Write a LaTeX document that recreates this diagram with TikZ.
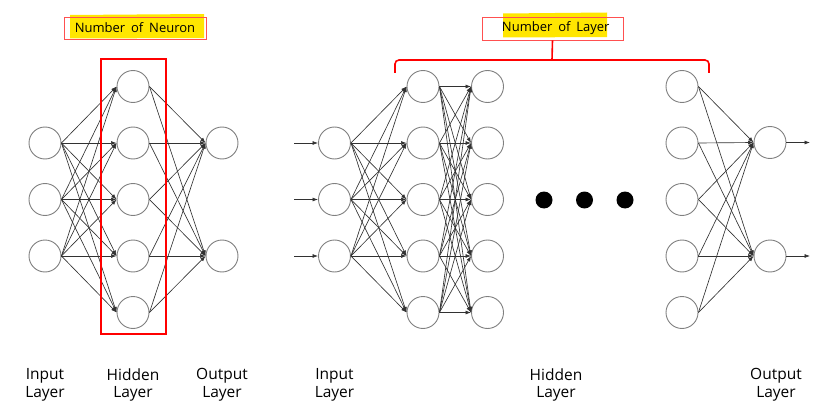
\documentclass[tikz,border=0pt]{standalone}
\usepackage{fontspec}
\setmainfont{Open Sans}
\usetikzlibrary{arrows.meta}
\definecolor{ringgray}{RGB}{128,128,128}
\definecolor{linkgray}{RGB}{50,50,50}
\definecolor{markyellow}{RGB}{255,230,0}
\definecolor{boxred}{RGB}{255,80,80}
\begin{document}
\begin{tikzpicture}[x=1pt,y=-1pt,
  neuron/.style={circle,draw=ringgray,fill=white,line width=0.9pt,minimum size=32pt,inner sep=0pt},
  link/.style={draw=linkgray,line width=0.65pt,-{Latex[length=5.5pt,width=4pt]}},
  dotnode/.style={circle,fill=black,minimum size=17pt,inner sep=0pt},
  layerlabel/.style={align=center,anchor=north,inner sep=0pt,font=\fontsize{15.5}{17.5}\selectfont},
  titlebox/.style={draw=boxred,line width=0.8pt,inner sep=0pt,font=\fontsize{13}{15}\selectfont},
  brace/.style={draw=red,line width=1.6pt,rounded corners=4pt}]
\useasboundingbox (0,0) rectangle (831,420);

% ---------- small network: input, one hidden layer, output ----------
\foreach \i/\y in {1/143,2/199.5,3/256}
  \node[neuron] (LI\i) at (45,\y) {};
\foreach \i/\y in {1/86.5,2/143,3/199.5,4/256,5/312.5}
  \node[neuron] (LH\i) at (133,\y) {};
\foreach \i/\y in {1/143,2/256}
  \node[neuron] (LO\i) at (222,\y) {};

\foreach \a in {1,2,3}
  \foreach \b in {1,...,5}
    \draw[link] (LI\a.east) -- (LH\b.west);
\foreach \a in {1,...,5}
  \foreach \b in {1,2}
    \draw[link] (LH\a.east) -- (LO\b.west);

% red frame around the hidden layer
\node[draw=red,line width=2.5pt,minimum width=65pt,minimum height=275pt,inner sep=0pt]
  (neuronframe) at (133.5,196.5) {};

% title: number of neurons
\fill[markyellow] (70,15) -- (204,14) -- (204,38) -- (70,38.5) -- cycle;
\node[titlebox,minimum width=142pt,minimum height=22pt] (neurontitle) at (135,28) {Number\hspace{0.45em}of\hspace{0.45em}Neuron};

% ---------- deep network ----------
\foreach \i/\y in {1/143,2/199.5,3/256}{
  \node[neuron] (RI\i) at (334.5,\y) {};
  \coordinate (RS\i) at (294,\y);
}
\foreach \i/\y in {1/86.5,2/143,3/199.5,4/256,5/312.5}{
  \node[neuron] (RA\i) at (423,\y) {};
  \node[neuron] (RB\i) at (487.5,\y) {};
  \node[neuron] (RZ\i) at (682,\y) {};
}
\foreach \i/\y in {1/142.5,2/256}{
  \node[neuron] (RO\i) at (770,\y) {};
  \coordinate (RE\i) at (810,\y);
}

\foreach \i in {1,2,3}
  \draw[link] (RS\i) -- (RI\i.west);
\foreach \a in {1,2,3}
  \foreach \b in {1,...,5}
    \draw[link] (RI\a.east) -- (RA\b.west);
\foreach \a in {1,...,5}
  \foreach \b in {1,...,5}
    \draw[link] (RA\a.east) -- (RB\b.west);
\foreach \a in {1,...,5}
  \foreach \b in {1,2}
    \draw[link] (RZ\a.east) -- (RO\b.west);
\foreach \i in {1,2}
  \draw[link] (RO\i.east) -- (RE\i);

% ellipsis between the hidden layers
\node[dotnode] (dotA) at (544,200) {};
\node[dotnode] (dotB) at (584.5,200) {};
\node[dotnode] (dotC) at (625,200) {};

% title: number of layers, with its brace
\fill[markyellow] (503,13.5) -- (607,12.5) -- (607,37) -- (503,37.5) -- cycle;
\node[titlebox,minimum width=141pt,minimum height=23pt] (layertitle) at (552.5,28.5) {\hspace{0.5em}Number\hspace{0.45em}of\hspace{0.45em}Layer};
\coordinate (braceL) at (395,73);
\coordinate (braceR) at (709,73);
\coordinate (braceM) at (552,60);
\draw[brace] (braceL) -- (395,60) -- (709,60) -- (braceR);
\draw[draw=red,line width=1.6pt] (braceM) -- (layertitle.south);

% ---------- layer captions ----------
\node[layerlabel] (capLI) at (45,368.5) {Input\\Layer};
\node[layerlabel] (capLH) at (133,368.5) {Hidden\\Layer};
\node[layerlabel] (capLO) at (222,368.5) {Output\\Layer};
\node[layerlabel] (capRI) at (334.5,368.5) {Input\\Layer};
\node[layerlabel] (capRH) at (556,368.5) {Hidden\\Layer};
\node[layerlabel] (capRO) at (776,368.5) {Output\\Layer};
\end{tikzpicture}
\end{document}
